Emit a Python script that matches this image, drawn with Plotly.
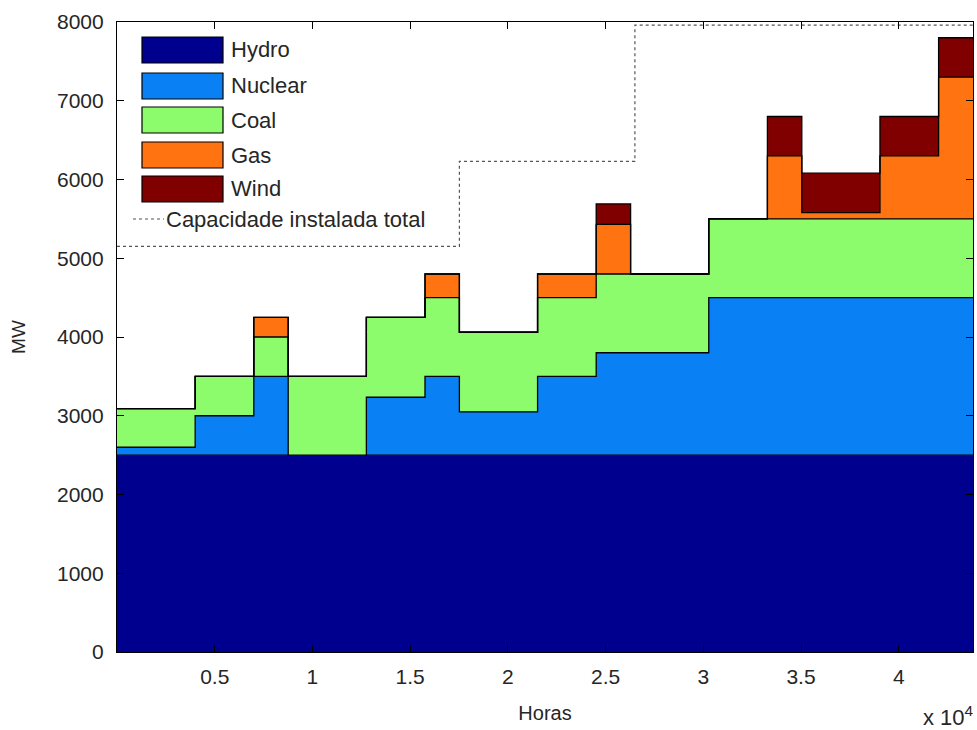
import plotly.graph_objects as go

# ---------------- data ----------------
# segment edges in hours (5 years, 3 seasons per year)
edges = [0, 4000, 7000, 8760, 12760, 15760, 17520, 21520, 24520, 26280,
         30280, 33280, 35040, 39040, 42040, 43800]
sources = ["Hydro", "Nuclear", "Coal", "Gas", "Wind"]
hydro   = [2500] * 15
nuclear = [100, 500, 1000, 0, 735, 1000, 550, 1000, 1300, 1300, 2000, 2000, 2000, 2000, 2000]
coal    = [490, 500, 500, 1000, 1015, 1000, 1010, 1000, 1000, 1000, 1000, 1000, 1000, 1000, 1000]
gas     = [0, 0, 250, 0, 0, 300, 0, 300, 630, 0, 0, 800, 80, 800, 1800]
wind    = [0, 0, 0, 0, 0, 0, 0, 0, 260, 0, 0, 500, 500, 500, 500]
cap_x   = [0, 17520, 26500, 43800]
cap_mw  = [5150, 6230, 7960]
xticks_val = [5000, 10000, 15000, 20000, 25000, 30000, 35000, 40000]
xticks_txt = ["0.5", "1", "1.5", "2", "2.5", "3", "3.5", "4"]
yticks_val = [0, 1000, 2000, 3000, 4000, 5000, 6000, 7000, 8000]

colors = ["#00008f", "#0a80f5", "#8cfc6c", "#ff7410", "#800000"]
layers = [hydro, nuclear, coal, gas, wind]

W, H = 977, 730
L, R, T, B = 117, 973, 22, 652
FONT = "Liberation Sans, Arial, sans-serif"
TXT = "#262626"

fig = go.Figure()

# stacked step areas
cum = [0] * 15
for i, (name, vals) in enumerate(zip(sources, layers)):
    cum = [c + v for c, v in zip(cum, vals)]
    xs, ys = [], []
    for k in range(15):
        xs += [edges[k], edges[k + 1]]
        ys += [cum[k], cum[k]]
    fig.add_trace(go.Scatter(
        x=xs, y=ys, name=name, mode="lines",
        line=dict(color="black", width=1.3),
        fill="tozeroy" if i == 0 else "tonexty",
        fillcolor=colors[i], showlegend=False, hoverinfo="skip"))

# installed capacity
cx, cy = [], []
for k in range(len(cap_mw)):
    cx += [cap_x[k], cap_x[k + 1]]
    cy += [cap_mw[k], cap_mw[k]]
fig.add_trace(go.Scatter(x=cx, y=cy, mode="lines", name="Capacidade instalada total",
                         line=dict(color="#555555", width=1.2, dash="dot"),
                         showlegend=False, hoverinfo="skip"))

# ---------------- custom legend (paper coords) ----------------
def px2x(p):
    return (p - L) / (R - L)

def py2y(p):
    return (B - p) / (B - T)

shapes, annos = [], []
rect_tops = [37, 73, 107, 142, 176]
for name, col, top in zip(sources, colors, rect_tops):
    shapes.append(dict(type="rect", xref="paper", yref="paper",
                       x0=px2x(142), x1=px2x(223), y0=py2y(top + 26), y1=py2y(top),
                       fillcolor=col, line=dict(color="black", width=1.2)))
    annos.append(dict(text=name, xref="paper", yref="paper", x=px2x(229), y=py2y(top + 13),
                      xanchor="left", yanchor="middle", showarrow=False,
                      font=dict(family=FONT, size=22, color=TXT)))
shapes.append(dict(type="line", xref="paper", yref="paper",
                   x0=px2x(133), x1=px2x(164), y0=py2y(219), y1=py2y(219),
                   line=dict(color="#555555", width=1.2, dash="dot")))
annos.append(dict(text="Capacidade instalada total", xref="paper", yref="paper",
                  x=px2x(164), y=py2y(219), xanchor="left", yanchor="middle",
                  showarrow=False, font=dict(family=FONT, size=22, color=TXT)))
annos.append(dict(text="x 10<sup>4</sup>", xref="paper", yref="paper",
                  x=px2x(976), y=py2y(716), xanchor="right", yanchor="middle",
                  showarrow=False, font=dict(family=FONT, size=22, color=TXT)))

axis_common = dict(showline=True, linecolor="black", linewidth=1.2, mirror="ticks",
                   ticks="inside", ticklen=7, tickcolor="black", showgrid=False,
                   zeroline=False, tickfont=dict(family=FONT, size=21, color=TXT))

fig.update_layout(
    width=W, height=H,
    margin=dict(l=L, r=W - R, t=T, b=H - B, autoexpand=False),
    paper_bgcolor="white", plot_bgcolor="white",
    font=dict(family=FONT, color=TXT),
    shapes=shapes, annotations=annos, showlegend=False,
    xaxis=dict(range=[0, 43800], tickvals=xticks_val, ticktext=xticks_txt,
               title=dict(text="Horas", font=dict(family=FONT, size=20, color=TXT), standoff=18),
               automargin=False, ticklabelstandoff=6, **axis_common),
    yaxis=dict(range=[0, 8000], tickvals=yticks_val,
               title=dict(text="MW", font=dict(family=FONT, size=19, color=TXT), standoff=26),
               automargin=False, ticklabelstandoff=8, **axis_common),
)

fig.write_html("out.html")
